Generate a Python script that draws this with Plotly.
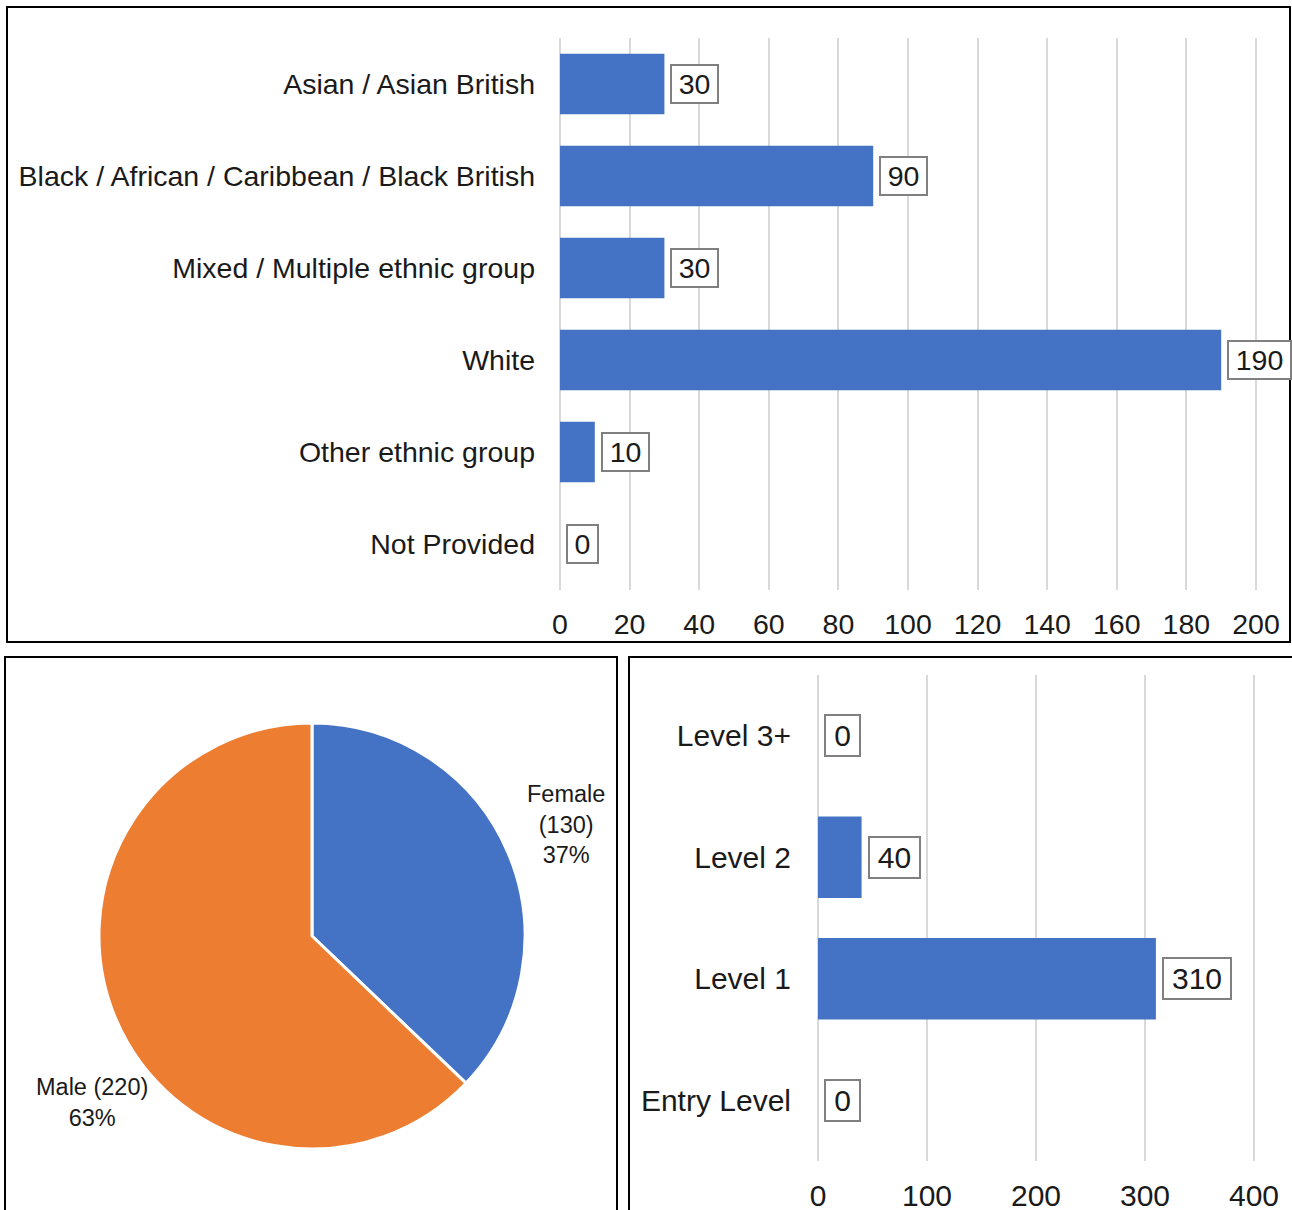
import plotly.graph_objects as go

# Ethnicity breakdown
ethnic_groups = [
    "Asian / Asian British",
    "Black / African / Caribbean / Black British",
    "Mixed / Multiple ethnic group",
    "White",
    "Other ethnic group",
    "Not Provided",
]
ethnic_counts = [30, 90, 30, 190, 10, 0]
ethnic_ticks = [0, 20, 40, 60, 80, 100, 120, 140, 160, 180, 200]

# Gender split
genders = ["Female", "Male"]
gender_counts = [130, 220]

# Qualification level
levels = ["Level 3+", "Level 2", "Level 1", "Entry Level"]
level_counts = [0, 40, 310, 0]
level_ticks = [0, 100, 200, 300, 400]

W, H = 1292, 1210
BLUE = "#4472C4"
ORANGE = "#ED7D31"
GRID = "#d9d9d9"
FONT = "Arial, Liberation Sans, sans-serif"
TXT = "#1a1a1a"
FS_TOP = 28.5
FS_BOT = 30
EDGE_PAD = 3


def px(x):
    return x / W


def py(y):
    return 1 - y / H


def padded(lo_px, hi_px, lo_val, hi_val, pad_px=EDGE_PAD):
    """Widen an axis a few pixels each side so edge gridlines stay visible."""
    scale = (hi_val - lo_val) / (hi_px - lo_px)
    return ([px(lo_px - pad_px), px(hi_px + pad_px)],
            [lo_val - pad_px * scale, hi_val + pad_px * scale])


x1_dom, x1_rng = padded(560, 1256, 0, 200)
x2_dom, x2_rng = padded(818, 1254, 0, 400)

fig = go.Figure()

fig.add_trace(go.Bar(
    x=ethnic_counts, y=ethnic_groups, orientation="h",
    marker=dict(color=BLUE, line=dict(width=0)), width=0.66,
    xaxis="x", yaxis="y", hoverinfo="x+y",
))

fig.add_trace(go.Bar(
    x=level_counts, y=levels, orientation="h",
    marker=dict(color=BLUE, line=dict(width=0)), width=0.67,
    xaxis="x2", yaxis="y2", hoverinfo="x+y",
))

fig.add_trace(go.Pie(
    labels=genders, values=gender_counts, sort=False,
    direction="clockwise", rotation=0,
    marker=dict(colors=[BLUE, ORANGE], line=dict(color="white", width=3)),
    textinfo="none", hoverinfo="label+value+percent",
    domain=dict(x=[px(312 - 213), px(312 + 213)],
                y=[py(936 + 213), py(936 - 213)]),
))

top_font = dict(family=FONT, size=FS_TOP, color=TXT)
bot_font = dict(family=FONT, size=FS_BOT, color=TXT)
common = dict(zeroline=False, showline=False, automargin=False,
              fixedrange=True)

fig.update_layout(
    width=W, height=H,
    margin=dict(l=0, r=0, t=0, b=0, autoexpand=False),
    paper_bgcolor="white", plot_bgcolor="white",
    showlegend=False,
    font=dict(family=FONT, color=TXT),
    xaxis=dict(
        domain=x1_dom, range=x1_rng, tickvals=ethnic_ticks,
        showgrid=True, gridcolor=GRID, gridwidth=2, tickfont=top_font,
        ticklabelstandoff=14, anchor="y", **common,
    ),
    yaxis=dict(
        domain=[py(590), py(38)], autorange="reversed", showgrid=False,
        tickfont=top_font, ticklabelstandoff=24 - EDGE_PAD, anchor="x",
        **common,
    ),
    xaxis2=dict(
        domain=x2_dom, range=x2_rng, tickvals=level_ticks,
        showgrid=True, gridcolor=GRID, gridwidth=2, tickfont=bot_font,
        ticklabelstandoff=14, anchor="y2", **common,
    ),
    yaxis2=dict(
        domain=[py(1161), py(675)], autorange="reversed", showgrid=False,
        tickfont=bot_font, ticklabelstandoff=26 - EDGE_PAD, anchor="x2",
        **common,
    ),
)


def value_box(val, cat, xr, yr, fs, pad_w, box_h):
    text = str(val)
    return dict(
        x=val, y=cat, xref=xr, yref=yr, text=text, showarrow=False,
        xanchor="left", yanchor="middle", xshift=6,
        width=round(0.556 * fs * len(text)) + pad_w, height=box_h,
        font=dict(family=FONT, size=fs, color=TXT),
        bgcolor="white", bordercolor="#808080", borderwidth=2, borderpad=0,
    )


# Boxed value labels at the end of each bar
annotations = [value_box(v, c, "x", "y", FS_TOP, 13, 36)
               for c, v in zip(ethnic_groups, ethnic_counts)]
annotations += [value_box(v, c, "x2", "y2", FS_BOT, 16, 39)
                for c, v in zip(levels, level_counts)]

# Pie slice labels
total = sum(gender_counts)
pcts = [round(100 * v / total) for v in gender_counts]
annotations.append(dict(
    x=px(566), y=py(825), xref="paper", yref="paper", showarrow=False,
    text=f"{genders[0]}<br>({gender_counts[0]})<br>{pcts[0]}%",
    align="center", xanchor="center", yanchor="middle",
    font=dict(family=FONT, size=23.5, color=TXT),
))
annotations.append(dict(
    x=px(92), y=py(1102), xref="paper", yref="paper", showarrow=False,
    text=f"{genders[1]} ({gender_counts[1]})<br>{pcts[1]}%",
    align="center", xanchor="center", yanchor="middle",
    font=dict(family=FONT, size=23.5, color=TXT),
))
fig.update_layout(annotations=annotations)

# Panel frames
frame = dict(type="rect", xref="paper", yref="paper",
             line=dict(color="black", width=2), fillcolor="rgba(0,0,0,0)")
fig.update_layout(shapes=[
    dict(frame, x0=px(7), x1=px(1290), y0=py(642), y1=py(7)),
    dict(frame, x0=px(5), x1=px(617), y0=py(1230), y1=py(657)),
    dict(frame, x0=px(629), x1=px(1310), y0=py(1230), y1=py(657)),
])

fig.write_html("out.html")
